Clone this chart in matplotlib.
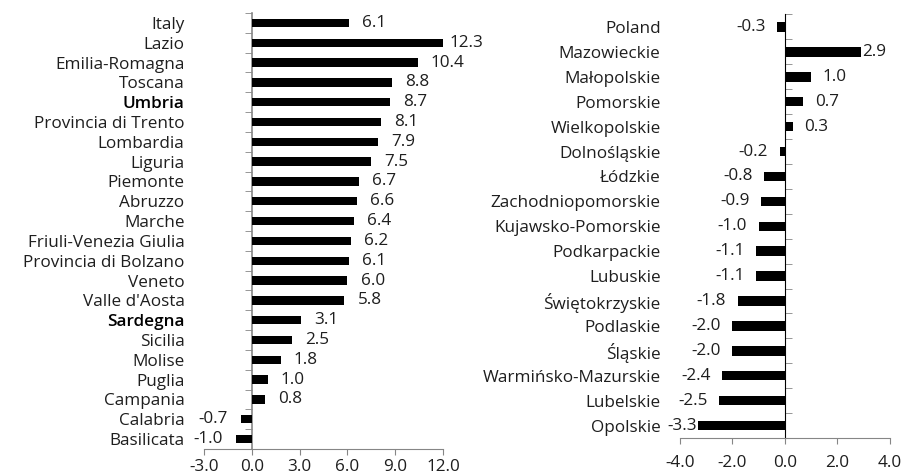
import matplotlib
matplotlib.use("Agg")
import matplotlib.pyplot as plt
from matplotlib.ticker import FixedLocator

plt.rcParams['font.family'] = ['Open Sans', 'DejaVu Sans']

# Italy: change by region
it_regions = ["Italy", "Lazio", "Emilia-Romagna", "Toscana", "Umbria", "Provincia di Trento",
              "Lombardia", "Liguria", "Piemonte", "Abruzzo", "Marche", "Friuli-Venezia Giulia",
              "Provincia di Bolzano", "Veneto", "Valle d'Aosta", "Sardegna", "Sicilia", "Molise",
              "Puglia", "Campania", "Calabria", "Basilicata"]
it_values = [6.1, 12.3, 10.4, 8.8, 8.7, 8.1, 7.9, 7.5, 6.7, 6.6, 6.4, 6.2, 6.1, 6.0, 5.8,
             3.1, 2.5, 1.8, 1.0, 0.8, -0.7, -1.0]
it_bold = ["Umbria", "Sardegna"]
it_ticks = [-3, 0, 3, 6, 9, 12]

# Poland: change by voivodeship
pl_regions = ["Poland", "Mazowieckie", "Małopolskie", "Pomorskie", "Wielkopolskie",
              "Dolnośląskie", "Łódzkie", "Zachodniopomorskie", "Kujawsko-Pomorskie",
              "Podkarpackie", "Lubuskie", "Świętokrzyskie", "Podlaskie", "Śląskie",
              "Warmińsko-Mazurskie", "Lubelskie", "Opolskie"]
pl_values = [-0.3, 2.9, 1.0, 0.7, 0.3, -0.2, -0.8, -0.9, -1.0, -1.1, -1.1, -1.8, -2.0,
             -2.0, -2.4, -2.5, -3.3]
pl_bold = []
pl_ticks = [-4, -2, 0, 2, 4]

GRAY = "#868686"
TXT = "#1e1e1e"
FS = 12.3

fig = plt.figure(figsize=(9.04, 4.75), dpi=100)


def panel(rect, names, vals, bold, ticks, bar_h, tight, xpad):
    ax = fig.add_axes(rect)
    n = len(names)
    pos = list(range(n))
    ax.barh(pos, vals, height=bar_h, color="black")
    xmin, xmax = ticks[0], ticks[-1]
    ax.set_xlim(xmin, xmax)
    ax.set_ylim(n - 0.5, -0.5)

    # category labels sit left of the plot area
    ax.set_yticks(pos)
    ax.set_yticklabels(names, fontsize=FS, color=TXT)
    ax.tick_params(axis="y", length=0, pad=14)
    for lab in ax.get_yticklabels():
        if lab.get_text() in bold:
            lab.set_fontweight("semibold")
            lab.set_color("black")

    ax.set_xticks(ticks)
    ax.set_xticklabels([f"{t:.1f}" for t in ticks], fontsize=FS, color=TXT)
    ax.tick_params(axis="x", length=4, color=GRAY, pad=xpad)
    for s in ["top", "right", "left"]:
        ax.spines[s].set_visible(False)
    ax.spines["bottom"].set_color(GRAY)

    # vertical axis at zero with tick marks between categories
    sec = ax.secondary_yaxis(-xmin / (xmax - xmin))
    sec.set_yticks([])
    sec.yaxis.set_minor_locator(FixedLocator([i - 0.5 for i in range(n + 1)]))
    sec.tick_params(which="minor", length=5, color=GRAY)
    sec.spines["left"].set_color(GRAY)
    sec.spines["left"].set_linewidth(1.2)

    # value labels
    span = xmax - xmin
    for name, p, v in zip(names, pos, vals):
        txt = f"{v:.1f}"
        off = 0.005 * span if name in tight else 0.055 * span
        if v >= 0:
            ax.text(v + off, p, txt, ha="left", va="center", fontsize=FS, color=TXT)
        else:
            ax.text(v - off, p, txt, ha="right", va="center", fontsize=FS, color=TXT)
    return ax


panel([0.2257, 0.0547, 0.2644, 0.918], it_regions, it_values, it_bold, it_ticks, 0.42,
      ["Lazio"], 3.5)
panel([0.7522, 0.0779, 0.2323, 0.8916], pl_regions, pl_values, pl_bold, pl_ticks, 0.38,
      ["Mazowieckie", "Opolskie"], 8)

fig.savefig("out.png", dpi=100)
